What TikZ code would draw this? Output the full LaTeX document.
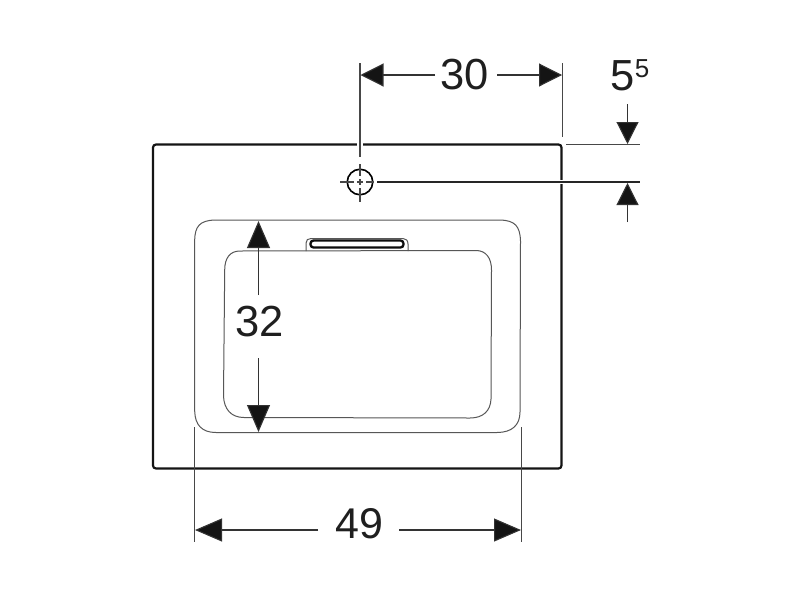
\documentclass[tikz,border=0pt]{standalone}
\usepackage{fontspec}
\setmainfont{Liberation Sans}
\usetikzlibrary{arrows.meta}
\tikzset{
  x=1pt,y=-1pt,
  dimline/.style={line width=1.1pt,draw=black!85},
  dimarrow/.style={line width=1.1pt,draw=black!80,-{Triangle[length=27pt,width=23pt,fill=black!92]}},
  shortarrow/.style={line width=1.1pt,draw=black!80,-{Triangle[length=23pt,width=23pt,fill=black!92]}},
  smallarrow/.style={line width=1.1pt,draw=black!80,-{Triangle[length=22pt,width=22pt,fill=black!92]}},
  extline/.style={line width=1.1pt,draw=black!72},
  bowl/.style={line width=1pt,draw=black!66},
  rim/.style={line width=2.2pt,draw=black!92,rounded corners=3pt},
  dimtext/.style={font=\fontsize{43.5}{44}\selectfont,text=black!88,inner sep=0pt}
}
\begin{document}
\begin{tikzpicture}
\useasboundingbox[fill=white] (0,0) rectangle (800,600);
% basin rim
\draw[rim] (153,144.5) rectangle (561.5,468.5);
\fill[white] (357,142) rectangle (363,147);
\fill[white] (560,180) rectangle (564,184);
% outer bowl edge
\draw[bowl] (215,220) -- (500,220) .. controls (515,220.5) and (520,226) .. (520.5,241)
  -- (520,412) .. controls (520,425) and (512,432.5) .. (497,432.5)
  -- (216,432.5) .. controls (202,432.5) and (195,425) .. (194.7,411)
  -- (194.7,241) .. controls (194.7,226) and (200,220.5) .. (215,220) -- cycle;
% inner bowl edge
\draw[bowl] (240,251) -- (476,250.5) .. controls (486,250.5) and (491.5,258) .. (491.5,270)
  -- (491,399) .. controls (490.5,411) and (483,418) .. (470,418)
  -- (244,417.5) .. controls (231,417.5) and (224,409) .. (223.5,396)
  -- (224.7,270) .. controls (224.7,258) and (230,251) .. (240,251) -- cycle;
% overflow
\draw[bowl] (306,251) -- (306,243) .. controls (306,240) and (308,238.5) .. (311,238.5)
  -- (403,238.5) .. controls (406,238.5) and (408,240.5) .. (408,244) -- (408,251);
\draw[line width=2.3pt,draw=black!95,rounded corners=3pt] (310.5,240.5) rectangle (403.5,247.5);
% tap hole
\node[circle,draw=black,line width=1.6pt,minimum size=25.5pt,inner sep=0pt] (hole) at (360,182) {};
\fill[black] (hole.center) circle (1);
\coordinate (hT) at (360,164);
\coordinate (hB) at (360,202);
\coordinate (hL) at (340,182);
\coordinate (hR) at (374,182);
\draw[extline] (hT) -- (360,176) (360,179) -- (360,185) (360,188) -- (hB);
\draw[extline] (hL) -- (354,182) (357,182) -- (363,182) (366,182) -- (hR);
% labels
\node[dimtext] (n30) at (465,74.5) {30};
\node[dimtext] (n55) at (630,75) {5\raisebox{13pt}{\fontsize{26}{26}\selectfont 5}};
\node[dimtext] (n32) at (260,322) {32};
\node[dimtext,font=\fontsize{43}{43}\selectfont] (n49) at (359.5,524) {49};
% extension lines
\coordinate (a1) at (360,63);  \coordinate (a2) at (360,157);
\coordinate (b1) at (562.5,63); \coordinate (b2) at (562.5,137);
\coordinate (c1) at (566,144.5); \coordinate (c2) at (640,144.5);
\coordinate (d1) at (377,182); \coordinate (d2) at (640,182);
\coordinate (e1) at (194.7,427); \coordinate (e2) at (194.7,542);
\coordinate (f1) at (521.5,427); \coordinate (f2) at (521.5,542);
\draw[extline] (a1) -- (a2);
\draw[extline] (b1) -- (b2);
\draw[extline] (c1) -- (c2);
\draw[dimline] (d1) -- (d2);
\draw[extline] (e1) -- (e2);
\draw[extline] (f1) -- (f2);
% dimension 30
\coordinate (p1) at (360.5,75); \coordinate (p2) at (435,75);
\coordinate (p3) at (497,75); \coordinate (p4) at (562,75);
\draw[shortarrow] (p2) -- (p1);
\draw[shortarrow] (p3) -- (p4);
% dimension 5.5
\coordinate (q1) at (627.5,104); \coordinate (q2) at (627.5,144);
\coordinate (q3) at (627.5,222); \coordinate (q4) at (627.5,183);
\draw[smallarrow] (q1) -- (q2);
\draw[smallarrow] (q3) -- (q4);
% dimension 32
\coordinate (r1) at (258.5,295); \coordinate (r2) at (258.5,221);
\coordinate (r3) at (258.5,358); \coordinate (r4) at (258.5,432);
\draw[dimarrow] (r1) -- (r2);
\draw[dimarrow] (r3) -- (r4);
% dimension 49
\coordinate (s1) at (318,530); \coordinate (s2) at (195,530);
\coordinate (s3) at (399,530); \coordinate (s4) at (521,530);
\draw[dimarrow] (s1) -- (s2);
\draw[dimarrow] (s3) -- (s4);
\end{tikzpicture}
\end{document}
